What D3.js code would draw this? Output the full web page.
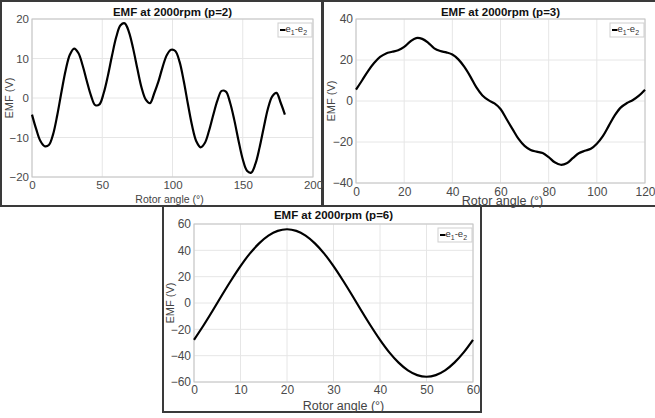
<!DOCTYPE html>
<html>
<head>
<meta charset="utf-8">
<script src="https://cdn.jsdelivr.net/npm/d3@7"></script>
<style>
body{margin:0;background:#fff;}
text{font-family:"Liberation Sans",Arial,sans-serif;}
</style>
</head>
<body>
<script>
// p=2 : rotor angle 0..180 deg, step 3
var angles1=[0,3,6,9,12,15,18,21,24,27,30,33,36,39,42,45,48,51,54,57,60,63,66,69,72,75,78,81,84,87,
  90,93,96,99,102,105,108,111,114,117,120,123,126,129,132,135,138,141,144,147,150,153,156,159,162,165,168,171,174,177,180];
var emf1=[-4.2,-7.9,-10.9,-12.2,-11.9,-9.2,-4.3,1.6,7.1,11.0,12.5,11.4,8.3,4.3,0.6,-1.8,-1.6,1.2,5.6,10.8,15.5,18.4,18.9,16.7,12.5,7.4,2.6,-0.4,-1.3,1.2,
  4.2,7.9,10.9,12.2,11.9,9.2,4.3,-1.6,-7.1,-11.0,-12.5,-11.4,-8.3,-4.3,-0.6,1.8,1.6,-1.2,-5.6,-10.8,-15.5,-18.4,-18.9,-16.7,-12.5,-7.4,-2.6,0.4,1.3,-1.2,-4.2];

// p=3 : rotor angle 0..120 deg, step 2.5
var angles2=[0,2.5,5,7.5,10,12.5,15,17.5,20,22.5,25,27.5,30,32.5,35,37.5,40,42.5,45,47.5,50,52.5,55,57.5,
  60,62.5,65,67.5,70,72.5,75,77.5,80,82.5,85,87.5,90,92.5,95,97.5,100,102.5,105,107.5,110,112.5,115,117.5,120];
var emf2=[5.5,10.0,14.6,18.5,21.5,23.2,24.0,24.8,26.4,29.0,30.7,30.3,28.4,25.7,24.4,23.7,22.7,20.3,16.6,11.9,6.6,2.7,0.4,-1.2,
  -3.9,-8.8,-13.7,-18.5,-21.9,-23.9,-24.7,-25.4,-27.4,-29.9,-31.1,-30.4,-27.9,-25.5,-24.3,-23.3,-20.8,-17.1,-12.0,-6.9,-3.1,-1.0,0.5,2.6,5.5];

// p=6 : rotor angle 0..60 deg, step 2
var angles3=[0,2,4,6,8,10,12,14,16,18,20,22,24,26,28,30,32,34,36,38,40,42,44,46,48,50,52,54,56,58,60];
var emf3=[-28.0,-17.3,-5.9,5.9,17.3,28.0,37.5,45.3,51.2,54.8,56.0,54.8,51.2,45.3,37.5,28.0,17.3,5.9,-5.9,-17.3,
  -28.0,-37.5,-45.3,-51.2,-54.8,-56.0,-54.8,-51.2,-45.3,-37.5,-28.0];

var xTicks1=[0,50,100,150,200], yTicks1=[-20,-10,0,10,20];
var xTicks2=[0,20,40,60,80,100,120], yTicks2=[-40,-20,0,20,40];
var xTicks3=[0,10,20,30,40,50,60], yTicks3=[-60,-40,-20,0,20,40,60];

var titles=["EMF at 2000rpm (p=2)","EMF at 2000rpm (p=3)","EMF at 2000rpm (p=6)"];
var xLabel="Rotor angle (°)", yLabel="EMF (V)";

var svg=d3.select("body").append("svg")
  .attr("width",655)
  .attr("height",418);

// panel frames
var frames=[[1,1,321,205],[323,1,334,205],[163,206,318,206]];
svg.selectAll("rect.frame")
  .data(frames)
  .enter()
  .append("rect")
  .attr("class","frame")
  .attr("x",function(d){return d[0];})
  .attr("y",function(d){return d[1];})
  .attr("width",function(d){return d[2];})
  .attr("height",function(d){return d[3];})
  .attr("fill","none")
  .attr("stroke","#3a3a3a")
  .attr("stroke-width",2);

var drawPanel=function(p)
{
  var x=d3.scaleLinear().domain(p.xDomain).range([p.left,p.right]);
  var y=d3.scaleLinear().domain(p.yDomain).range([p.bottom,p.top]);
  var g=svg.append("g");

  // grid
  g.selectAll("line.gx")
   .data(p.xTicks)
   .enter()
   .append("line")
   .attr("x1",function(d){return x(d);})
   .attr("x2",function(d){return x(d);})
   .attr("y1",p.top)
   .attr("y2",p.bottom)
   .attr("stroke","#e6e6e6")
   .attr("stroke-width",1);
  g.selectAll("line.gy")
   .data(p.yTicks)
   .enter()
   .append("line")
   .attr("x1",p.left)
   .attr("x2",p.right)
   .attr("y1",function(d){return y(d);})
   .attr("y2",function(d){return y(d);})
   .attr("stroke","#e6e6e6")
   .attr("stroke-width",1);

  // axes box
  g.append("rect")
   .attr("x",p.left)
   .attr("y",p.top)
   .attr("width",p.right-p.left)
   .attr("height",p.bottom-p.top)
   .attr("fill","none")
   .attr("stroke","#c4c4c4")
   .attr("stroke-width",1);

  // axes with tick labels
  var xAxis=d3.axisBottom(x).tickValues(p.xTicks).tickSize(0).tickPadding(p.xPad);
  var yAxis=d3.axisLeft(y).tickValues(p.yTicks).tickSize(0).tickPadding(3);
  var ax=g.append("g").attr("transform","translate(0,"+p.bottom+")").call(xAxis);
  var ay=g.append("g").attr("transform","translate("+p.left+",0)").call(yAxis);
  [ax,ay].forEach(function(a){
    a.select(".domain").remove();
    a.selectAll("text")
     .attr("fill","#4a4a4a")
     .attr("font-size",p.tickSize)
     .attr("font-family","Liberation Sans, Arial, sans-serif");
  });

  // curve
  var line=d3.line()
    .x(function(d){return x(d[0]);})
    .y(function(d){return y(d[1]);})
    .curve(d3.curveCatmullRom.alpha(0.5));
  g.append("path")
   .datum(d3.zip(p.angles,p.emf))
   .attr("d",line)
   .attr("fill","none")
   .attr("stroke","#000")
   .attr("stroke-width",2.2)
   .attr("stroke-linejoin","round");

  // legend
  var lg=g.append("g").attr("transform","translate("+(p.right-35)+","+(p.top+4)+")");
  lg.append("rect")
    .attr("x",0).attr("y",0)
    .attr("width",34).attr("height",14)
    .attr("fill","#fff")
    .attr("stroke","#cfcfcf")
    .attr("stroke-width",1);
  lg.append("line")
    .attr("x1",2).attr("x2",7.5)
    .attr("y1",7).attr("y2",7)
    .attr("stroke","#000")
    .attr("stroke-width",2);
  var lt=lg.append("text")
    .attr("x",7.5).attr("y",9)
    .attr("font-size",9.5)
    .attr("fill","#333");
  lt.append("tspan").text("e");
  lt.append("tspan").attr("font-size",7).attr("dy",2.5).text("1");
  lt.append("tspan").attr("dy",-2.5).text("-e");
  lt.append("tspan").attr("font-size",7).attr("dy",2.5).text("2");

  // title and axis labels
  g.append("text")
   .text(p.title)
   .attr("x",(p.left+p.right)/2)
   .attr("y",p.titleY)
   .attr("text-anchor","middle")
   .attr("font-size",11.5)
   .attr("font-weight","bold")
   .attr("fill","#111");
  g.append("text")
   .text(xLabel)
   .attr("x",(p.left+p.right)/2+p.xLabelShift)
   .attr("y",p.xLabelY)
   .attr("text-anchor","middle")
   .attr("font-size",p.xLabelSize)
   .attr("fill","#444");
  g.append("text")
   .text(yLabel)
   .attr("transform","translate("+p.yLabelX+","+((p.top+p.bottom)/2)+") rotate(-90)")
   .attr("text-anchor","middle")
   .attr("font-size",11)
   .attr("fill","#444");
};

drawPanel({angles:angles1,emf:emf1,xDomain:[0,200],yDomain:[-20,20],xTicks:xTicks1,yTicks:yTicks1,
  left:32,right:313,top:19,bottom:177,xPad:4,tickSize:11.5,title:titles[0],titleY:15.5,
  xLabelY:203,xLabelSize:10.5,xLabelShift:-3,yLabelX:13});
drawPanel({angles:angles2,emf:emf2,xDomain:[0,120],yDomain:[-40,40],xTicks:xTicks2,yTicks:yTicks2,
  left:356,right:645,top:19,bottom:183,xPad:4,tickSize:12,title:titles[1],titleY:16,
  xLabelY:205,xLabelSize:12.5,xLabelShift:2,yLabelX:335});
drawPanel({angles:angles3,emf:emf3,xDomain:[0,60],yDomain:[-60,60],xTicks:xTicks3,yTicks:yTicks3,
  left:194,right:473,top:224,bottom:382,xPad:3,tickSize:12,title:titles[2],titleY:219,
  xLabelY:410,xLabelSize:12.5,xLabelShift:10,yLabelX:174});
</script>
</body>
</html>
